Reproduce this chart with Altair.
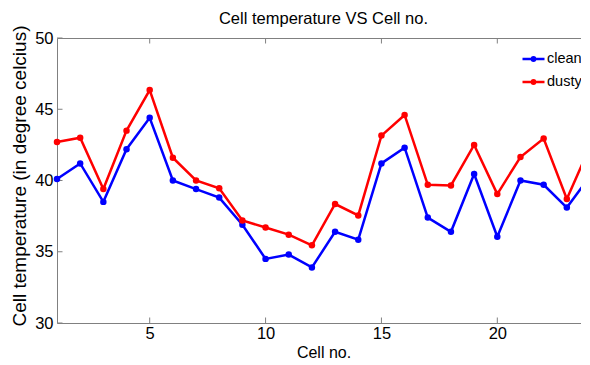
import altair as alt
import pandas as pd

cells = list(range(1, 25))
clean = [40.1, 41.2, 38.5, 42.2, 44.4, 40.0, 39.4, 38.8, 36.9, 34.5, 34.8, 33.9,
         36.4, 35.85, 41.2, 42.3, 37.4, 36.4, 40.45, 36.05, 40.0, 39.7, 38.1, 40.3]
dusty = [42.7, 43.0, 39.4, 43.5, 46.35, 41.6, 40.0, 39.45, 37.2, 36.7, 36.2, 35.45,
         38.35, 37.55, 43.15, 44.6, 39.7, 39.65, 42.5, 39.05, 41.65, 42.95, 38.7, 42.4]
series = ["clean", "dusty"]
colors = ["#0000FF", "#FF0000"]
x_ticks = [5, 10, 15, 20]
y_ticks = [30, 35, 40, 45, 50]

W, H = 533, 285
TICK = 5.5
FRAME = "#808080"
FONT = "Liberation Sans"

rows = []
for name, vals in zip(series, [clean, dusty]):
    for c, v in zip(cells, vals):
        rows.append({"cell": c, "temp": v, "series": name})
df = pd.DataFrame(rows)
xt = pd.DataFrame({"cell": x_ticks})
yt = pd.DataFrame({"temp": y_ticks})

x_enc = alt.X("cell:Q", scale=alt.Scale(domain=[1, 24], nice=False, zero=False),
              axis=alt.Axis(values=x_ticks, title="Cell no.", titlePadding=3,
                            labelPadding=2),
              title="Cell no.")
y_enc = alt.Y("temp:Q", scale=alt.Scale(domain=[30, 50], nice=False, zero=False),
              axis=alt.Axis(values=y_ticks, title="Cell temperature (in degree celcius)",
                            labelPadding=4, titleX=-32, titleY=137.5,
                            titleBaseline="alphabetic", titleFontSize=19),
              title="Cell temperature (in degree celcius)")

lines = alt.Chart(df).mark_line(
    strokeWidth=2.5,
    point=alt.OverlayMarkDef(filled=True, size=42),
).encode(
    x=x_enc, y=y_enc,
    color=alt.Color("series:N", scale=alt.Scale(domain=series, range=colors),
                    legend=alt.Legend(
                        title=None, orient="none", legendX=464, legendY=8.5,
                        symbolType="M-1,0L1,0M-0.15,0A0.15,0.15,0,1,1,0.15,0A0.15,0.15,0,1,1,-0.15,0",
                        symbolSize=484, symbolStrokeWidth=2.5,
                        labelFontSize=14.5, labelFont=FONT, labelColor="black",
                        labelOffset=1, rowPadding=3, padding=0)),
)

bottom_ticks = alt.Chart(xt).mark_rule(color=FRAME, strokeWidth=1).encode(
    x=x_enc, y=alt.value(H), y2=alt.value(H - TICK))
top_ticks = alt.Chart(xt).mark_rule(color=FRAME, strokeWidth=1).encode(
    x=x_enc, y=alt.value(0), y2=alt.value(TICK))
left_ticks = alt.Chart(yt).mark_rule(color=FRAME, strokeWidth=1).encode(
    y=y_enc, x=alt.value(0), x2=alt.value(TICK))
right_ticks = alt.Chart(yt).mark_rule(color=FRAME, strokeWidth=1).encode(
    y=y_enc, x=alt.value(W), x2=alt.value(W - TICK))

chart = alt.layer(bottom_ticks, top_ticks, left_ticks, right_ticks, lines).properties(
    width=W, height=H,
    background="white",
    title=alt.TitleParams("Cell temperature VS Cell no.", fontSize=16.5, font=FONT,
                          fontWeight="normal", color="black", anchor="middle",
                          frame="group", baseline="top", offset=-2),
    autosize=alt.AutoSizeParams(type="none"),
    padding={"left": 49, "top": 30, "right": -9, "bottom": 40},
).configure_view(
    stroke=FRAME, strokeWidth=1
).configure_axis(
    domain=False, ticks=False, tickSize=0, grid=False,
    labelFont=FONT, labelFontSize=16.5, labelColor="black",
    titleFont=FONT, titleFontSize=16, titleColor="black", titleFontWeight="normal",
)

chart.save("out.html", embed_options={"renderer": "svg", "actions": False})
